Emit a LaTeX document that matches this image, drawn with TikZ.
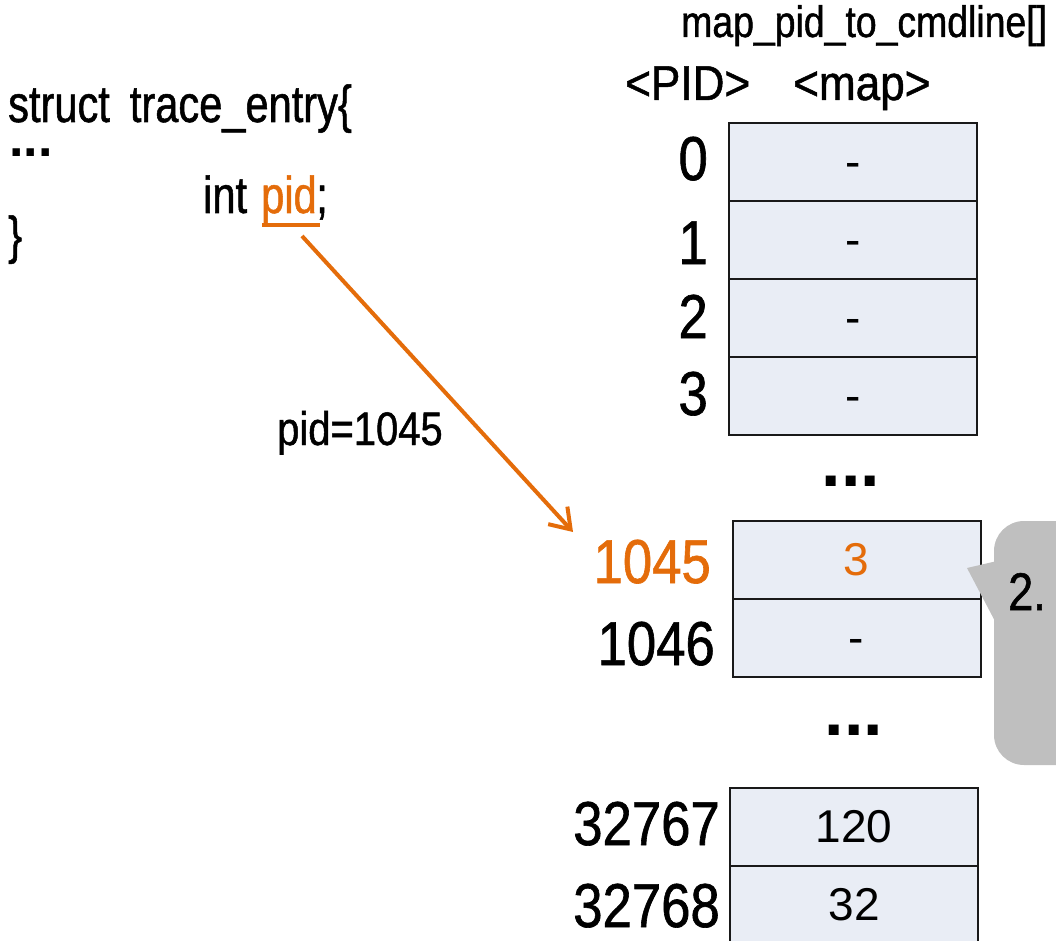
\documentclass[tikz,border=0pt]{standalone}
\usepackage{fontspec}
\setmainfont{Liberation Sans}
\newfontfamily\gothic[FakeStretch=0.8,FakeBold=1]{Liberation Sans}
\newfontfamily\gothicn[FakeStretch=0.85,FakeBold=1]{Liberation Sans}
\newfontfamily\gothicw[FakeStretch=0.9,FakeBold=1]{Liberation Sans}
\usetikzlibrary{arrows.meta}
\definecolor{accent}{HTML}{E46C0A}
\definecolor{cellfill}{HTML}{E9EDF5}
\definecolor{callgray}{HTML}{BFBFBF}
\newcommand{\fsz}[1]{\fontsize{#1}{#1}\selectfont}
\begin{document}
\begin{tikzpicture}[x=1pt,y=-1pt,
  cell/.style={draw=black!90, line width=2pt, fill=cellfill, minimum width=248pt, minimum height=78pt, inner sep=0pt, font=\fsz{46}},
  pidlbl/.style={anchor=base east, inner sep=0pt, font=\gothicn\fsz{62}},
  code/.style={anchor=base west, inner sep=0pt, font=\gothic\fsz{52}},
  head/.style={anchor=base west, inner sep=0pt, font=\gothicw\fsz{49}},
  dots/.style={anchor=base, inner sep=0pt, text height=10pt, text depth=0pt, font=\bfseries\fsz{70}},
  flow/.style={accent, line width=4pt, -{Straight Barb[length=19pt,width=26pt]}}
]
\useasboundingbox (0,0) rectangle (1056,941);

% header
\node[anchor=base west, inner sep=0pt, font=\gothicn\fsz{44}] (title) at (681,37) {map\_pid\_to\_cmdline[]};
\node[head] (hpid) at (625,100) {<PID>};
\node[head] (hmap) at (793,100) {<map>};

% code
\node[code, text depth=0pt] (l1) at (8,122) {struct\hspace{20pt}trace\_entry\{};
\node[anchor=base west, inner sep=0pt, text height=8pt, text depth=0pt, font=\bfseries\fsz{52}] (l2) at (9,157) {...};
\node[code] (lint) at (203,213) {int};
\node[code, text=accent] (lpid) at (261,213) {pid};
\node[code] (lsemi) at (316,213) {;};
\node[code] (l4) at (8,253) {\}};
\coordinate (ulA) at (262,225);
\coordinate (ulB) at (320,225);
\draw[accent, line width=4pt] (ulA) -- (ulB);

% table group 1
\node[cell] (c0) at (853,162) {\vphantom{0}-};
\node[cell] (c1) at (853,240) {\vphantom{0}-};
\node[cell] (c2) at (853,318) {\vphantom{0}-};
\node[cell] (c3) at (853,396) {\vphantom{0}-};
\node[pidlbl] (p0) at (708,180) {0};
\node[pidlbl] (p1) at (708,264) {1};
\node[pidlbl] (p2) at (708,338) {2};
\node[pidlbl] (p3) at (708,415) {3};
\node[dots] (d1) at (851,486) {...};

% table group 2
\node[cell, text=accent] (c1045) at (856.5,559.5) {\vphantom{0}3};
\node[cell] (c1046) at (856.5,637.5) {\vphantom{0}-};
\node[pidlbl, text=accent] (p1045) at (711,583) {1045};
\node[pidlbl] (p1046) at (715,665) {1046};
\node[dots] (d2) at (854,735) {...};

% table group 3
\node[cell] (c32767) at (854,827) {\vphantom{0}120};
\node[cell] (c32768) at (854,905) {\vphantom{0}32};
\node[pidlbl] (p32767) at (720,845) {32767};
\node[pidlbl] (p32768) at (720,927) {32768};

% arrow
\coordinate (arrS) at (302,236);
\coordinate (arrE) at (573,532);
\draw[flow] (arrS) -- (arrE);
\node[anchor=base west, inner sep=0pt, font=\gothicn\fsz{47}] (plabel) at (277,445) {pid=1045};

% callout
\fill[callgray, rounded corners=30pt] (994,521) rectangle (1130,765);
\fill[callgray] (997,561) -- (967,568) -- (997,625) -- cycle;
\node[anchor=base west, inner sep=0pt, font=\gothicn\fsz{53}] (step2) at (1008,610) {2.};
\end{tikzpicture}
\end{document}
